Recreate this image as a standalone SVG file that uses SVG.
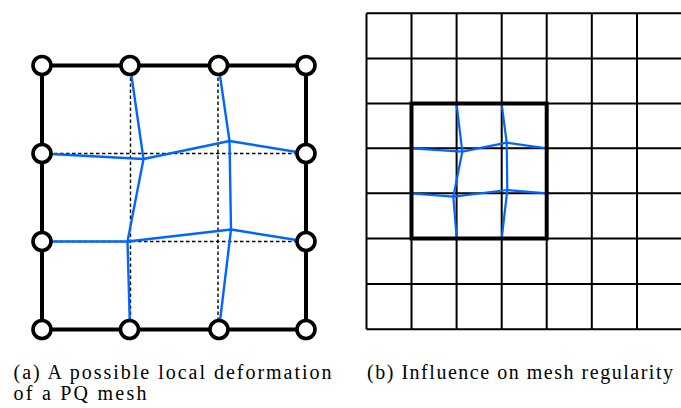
<svg xmlns="http://www.w3.org/2000/svg" width="681" height="408" viewBox="0 0 681 408">
<style>
.frame{fill:none;stroke:#000;stroke-width:4;stroke-linecap:square}
.dash{fill:none;stroke:#000;stroke-width:1.4;stroke-dasharray:3.5,2.5}
.blue{fill:none;stroke:#0066ff;stroke-width:2.4;stroke-linejoin:round}
.blue2{fill:none;stroke:#0066ff;stroke-width:2.2;stroke-linejoin:round}
.node{fill:#fff;stroke:#000;stroke-width:3.6}
.grid{fill:none;stroke:#000;stroke-width:2}
.thick{fill:none;stroke:#000;stroke-width:4}
</style>
<rect width="681" height="408" fill="#fff"/>
<g id="left-mesh">
  <rect class="frame" x="42" y="65.5" width="264" height="264"/>
  <g id="dashed">
    <path class="dash" d="M42 153.5H306M42 241.5H306M130.5 65.5V329.5M218 65.5V329.5"/>
  </g>
  <g id="connectors">
    <path class="blue" d="M130 65.5L143.5 159L127.5 241.5L130 329.5"/>
    <path class="blue" d="M218.5 65.5L229.5 141L231 229.5L219 329.5"/>
    <path class="blue" d="M42 153.5L143.5 159L229.5 141L306 153.5"/>
    <path class="blue" d="M42 241.5L127.5 241.5L231 229.5L306 241.5"/>
  </g>
  <g id="n-top-0"><circle class="node" cx="42" cy="65.5" r="9"/></g>
  <g id="n-top-1"><circle class="node" cx="130" cy="65.5" r="9"/></g>
  <g id="n-top-2"><circle class="node" cx="218.5" cy="65.5" r="9"/></g>
  <g id="n-top-3"><circle class="node" cx="306" cy="65.5" r="9"/></g>
  <g id="n-left-1"><circle class="node" cx="42" cy="153.5" r="9"/></g>
  <g id="n-left-2"><circle class="node" cx="42" cy="241.5" r="9"/></g>
  <g id="n-right-1"><circle class="node" cx="306" cy="153.5" r="9"/></g>
  <g id="n-right-2"><circle class="node" cx="306" cy="241.5" r="9"/></g>
  <g id="n-bot-0"><circle class="node" cx="42" cy="329.5" r="9"/></g>
  <g id="n-bot-1"><circle class="node" cx="129.5" cy="329.5" r="9"/></g>
  <g id="n-bot-2"><circle class="node" cx="219" cy="329.5" r="9"/></g>
  <g id="n-bot-3"><circle class="node" cx="306" cy="329.5" r="9"/></g>
</g>
<g id="right-grid">
  <path class="grid" d="M366.5 13.3H681M366.5 58.4H681M366.5 103.5H681M366.5 148.3H681M366.5 193.3H681M366.5 238.5H681M366.5 283.9H681M366.5 329.3H681"/>
  <path class="grid" d="M366.5 13.3V329.3M411.5 13.3V329.3M456.6 13.3V329.3M501.7 13.3V329.3M546.7 13.3V329.3M591.8 13.3V329.3M637 13.3V329.3"/>
  <g id="right-connectors">
    <path class="blue2" d="M456.5 103.5L462.3 151.7L453.3 196.7L456.7 238.5"/>
    <path class="blue2" d="M501.6 103.5L506.7 142.7L507.3 190L501.7 238.5"/>
    <path class="blue2" d="M411.5 148.3L462.3 151.7L506.7 142.7L546.7 148.3"/>
    <path class="blue2" d="M411.5 193.3L453.3 196.7L507.3 190L546.7 193.3"/>
  </g>
  <rect class="thick" x="411.5" y="103.5" width="135.2" height="135"/>
</g>
<g id="captions" font-family="'Liberation Serif', 'Times New Roman', 'DejaVu Serif', serif" font-size="20" fill="#000">
  <text x="13.5" y="379" textLength="318" lengthAdjust="spacing">(a) A possible local deformation</text>
  <text x="13.5" y="400" textLength="133" lengthAdjust="spacing">of a PQ mesh</text>
  <text x="367" y="379" textLength="306" lengthAdjust="spacing">(b) Influence on mesh regularity</text>
</g>
</svg>
